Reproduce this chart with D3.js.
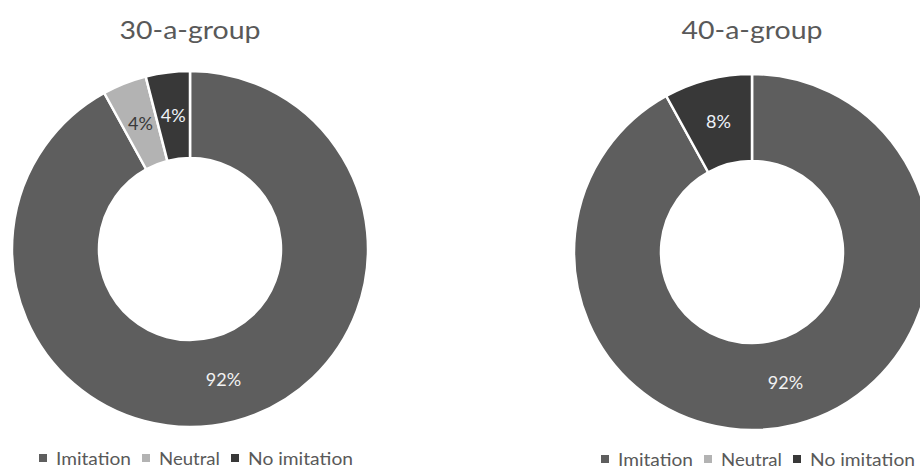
<!DOCTYPE html>
<html>
<head>
<meta charset="utf-8">
<script src="https://cdn.jsdelivr.net/npm/d3@7"></script>
<style>
  html, body { margin: 0; padding: 0; background: #fff; }
  svg { display: block; }
  text { font-family: Lato, "Open Sans", sans-serif; }
</style>
</head>
<body>
<svg id="chart" width="920" height="471"></svg>
<script>
// Response categories and the share of each in the two groups (percent)
const categories = ["Imitation", "Neutral", "No imitation"];
const groups = ["30-a-group", "40-a-group"];
const values30 = [92, 4, 4];
const values40 = [92, 0, 8];
const seriesValues = [values30, values40];

const colors = ["#5e5e5e", "#b3b3b3", "#383838"];
const labelColors = ["#f2f2f2", "#3a3a3a", "#eef2f8"];
// Legend label widths (px) for the condensed legend font
const legendWidths = [75, 61, 105];

const svg = d3.select("#chart");

// Placement of each donut
const panels = [
  { cx: 190, cy: 249, titleY: 39, legendY: 465 },
  { cx: 752, cy: 252, titleY: 39, legendY: 466 }
];
const outerR = 178, innerR = 91;

const pie = d3.pie().sort(null).value(d => d.value);
const arc = d3.arc().innerRadius(innerR).outerRadius(outerR);

groups.forEach((name, gi) => {
  const p = panels[gi];
  const data = categories.map((c, i) => ({ cat: c, idx: i, value: seriesValues[gi][i] }));
  const arcs = pie(data).filter(a => a.data.value > 0);

  const g = svg.append("g").attr("transform", `translate(${p.cx},${p.cy})`);

  g.selectAll("path.slice")
    .data(arcs)
    .join("path")
    .attr("class", "slice")
    .attr("d", arc)
    .attr("fill", d => colors[d.data.idx])
    .attr("stroke", "#fff")
    .attr("stroke-width", 2.5)
    .attr("stroke-linejoin", "round");

  g.selectAll("text.val")
    .data(arcs)
    .join("text")
    .attr("class", "val")
    .attr("transform", d => `translate(${arc.centroid(d)})`)
    .attr("text-anchor", "middle")
    .attr("dy", "0.35em")
    .attr("font-size", 18)
    .attr("fill", d => labelColors[d.data.idx])
    .text(d => d.data.value + "%");

  // Title
  svg.append("text")
    .attr("x", p.cx)
    .attr("y", p.titleY)
    .attr("text-anchor", "middle")
    .attr("font-size", 25)
    .attr("fill", "#595959")
    .attr("textLength", 141)
    .attr("lengthAdjust", "spacingAndGlyphs")
    .text(name);

  // Legend
  const lg = svg.append("g");
  let x = 0;
  const sq = 8, gapSq = 9, gapItem = 11;
  categories.forEach((c, i) => {
    lg.append("rect")
      .attr("x", x).attr("y", p.legendY - 11)
      .attr("width", sq).attr("height", sq)
      .attr("fill", colors[i]);
    x += sq + gapSq;
    lg.append("text")
      .attr("x", x).attr("y", p.legendY)
      .attr("font-size", 18)
      .attr("fill", "#595959")
      .attr("textLength", legendWidths[i])
      .attr("lengthAdjust", "spacingAndGlyphs")
      .text(c);
    x += legendWidths[i] + gapItem;
  });
  const total = x - gapItem;
  lg.attr("transform", `translate(${p.cx + 6 - total / 2},0)`);
});
</script>
</body>
</html>
